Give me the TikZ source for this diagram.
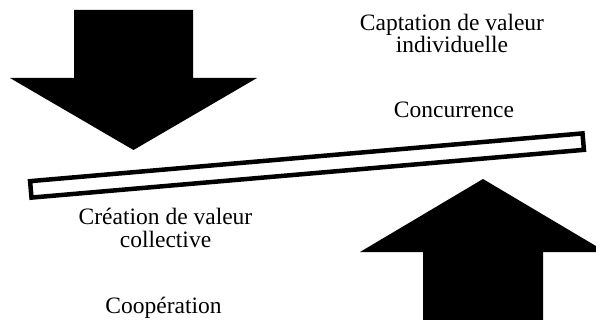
\documentclass[tikz,border=0pt]{standalone}
\usepackage{fontspec}
\setmainfont{Liberation Serif}
\begin{document}
\begin{tikzpicture}[x=1pt,y=-1pt,
  lbl/.style={align=center,inner sep=0pt,font=\fontsize{23.5}{22}\selectfont},
  bigarrow/.style={fill=black}]
\useasboundingbox (0,0) rectangle (596,320);
\fill[white] (0,0) rectangle (596,320);
\clip (0,0) rectangle (596,320);
% down arrow
\fill[bigarrow] (74,10) -- (193,10) -- (193,78) -- (257,78) -- (133.5,150) -- (10,78) -- (74,78) -- cycle;
% up arrow
\fill[bigarrow] (423,322) -- (423,252) -- (360,252) -- (483,179) -- (606,252) -- (543,252) -- (543,322) -- cycle;
% balance bar
\node[draw,fill=white,line width=4.5pt,minimum width=554.5pt,minimum height=16.5pt,inner sep=0pt,rotate=4.94] (bar) at (307,165.5) {};
% labels
\node[lbl,anchor=base] (capt) at (452,53) {Captation de valeur\\individuelle};
\node[lbl,anchor=base] (conc) at (454,118) {Concurrence};
\node[lbl,anchor=base] (crea) at (165.5,247) {Création de valeur\\collective};
\node[lbl,anchor=base] (coop) at (163.5,313) {Coopération};
\end{tikzpicture}
\end{document}
